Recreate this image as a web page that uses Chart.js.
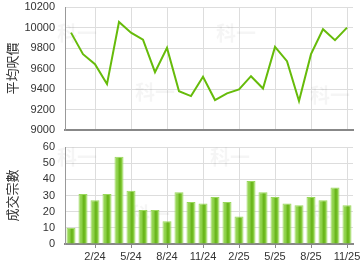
<!DOCTYPE html>
<html>
<head>
<meta charset="utf-8">
<script src="https://cdn.jsdelivr.net/npm/chart.js@4/dist/chart.umd.min.js"></script>
<style>
  body { margin: 0; background: #fff; }
  .box { position: absolute; left: 0; width: 360px; }
</style>
</head>
<body>
<div class="box" style="top:0;height:137px"><canvas id="priceChart"></canvas></div>
<div class="box" style="top:137px;height:133px"><canvas id="volChart"></canvas></div>
<script>
const months = ["12/23", "1/24", "2/24", "3/24", "4/24", "5/24", "6/24", "7/24", "8/24", "9/24", "10/24", "11/24",
                "12/24", "1/25", "2/25", "3/25", "4/25", "5/25", "6/25", "7/25", "8/25", "9/25", "10/25", "11/25"];
const avgPrice = [9950, 9740, 9642, 9448, 10054, 9950, 9882, 9564, 9801, 9378, 9331, 9519,
                  9292, 9357, 9396, 9525, 9405, 9811, 9671, 9282, 9740, 9983, 9876, 9999];
const deals = [10, 31, 27, 31, 54, 33, 21, 21, 14, 32, 26, 25,
               29, 26, 17, 39, 32, 29, 25, 24, 29, 27, 35, 24];

const tickFont = { family: "Liberation Sans, Arial", size: 11 };
const titleFont = { family: "Noto Sans CJK TC", size: 13 };
const showTick = i => i % 3 === 2;

// fixed box sizes so both plot areas line up like the original
function fixBox(w, h) {
    return s => {
        if (w !== null) s.width = w;
        if (h !== null) s.height = h;
        s.paddingTop = 0; s.paddingBottom = 0; s.paddingLeft = 0; s.paddingRight = 0;
    };
}

const watermark = {
    id: "watermark",
    beforeDatasetsDraw(chart, args, opts) {
        const c = chart.ctx;
        c.save();
        c.fillStyle = "rgba(0,0,0,0.04)";
        c.font = "bold 20px 'Noto Sans CJK TC'";
        c.textAlign = "center";
        c.textBaseline = "middle";
        opts.spots.forEach(p => c.fillText("科一", p[0], p[1]));
        c.restore();
    }
};

function yScale(min, max, step, title) {
    return {
        min: min, max: max,
        afterFit: fixBox(65, null),
        border: { color: "#999", width: 1 },
        grid: { color: "#ddd", drawTicks: false },
        ticks: { stepSize: step, autoSkip: false, padding: 10, color: "#333", font: tickFont, callback: v => String(v) },
        title: { display: true, text: title, color: "#333", font: titleFont, padding: { top: 4 } }
    };
}

new Chart(document.getElementById("priceChart"), {
    type: "line",
    data: {
        labels: months,
        datasets: [{
            data: avgPrice,
            borderColor: "#66bb0a",
            borderWidth: 2,
            pointRadius: 0,
            tension: 0
        }]
    },
    plugins: [watermark],
    options: {
        responsive: true,
        maintainAspectRatio: false,
        animation: false,
        layout: { padding: { top: 7, right: 7 } },
        plugins: {
            legend: { display: false },
            tooltip: { enabled: false },
            watermark: { spots: [[77, 33], [155, 92], [236, 33], [330, 95]] }
        },
        scales: {
            x: {
                offset: true,
                afterFit: fixBox(null, 7),
                border: { color: "#888", width: 2 },
                grid: { offset: false, drawTicks: false, color: c => showTick(c.index) ? "#ddd" : "transparent" },
                ticks: { display: false, autoSkip: false }
            },
            y: yScale(9000, 10200, 200, "平均呎價")
        }
    }
});

new Chart(document.getElementById("volChart"), {
    type: "bar",
    data: {
        labels: months,
        datasets: [{
            data: deals,
            backgroundColor: c => {
                const x = c.chart.scales.x;
                const cx = x ? x.getPixelForValue(c.dataIndex) : NaN;
                if (!isFinite(cx)) return "#8ccf45";
                const g = c.chart.ctx.createLinearGradient(cx - 4.5, 0, cx + 4.5, 0);
                g.addColorStop(0, "#a4dc68");
                g.addColorStop(0.35, "#8cd048");
                g.addColorStop(0.6, "#62b012");
                g.addColorStop(0.8, "#86cc3e");
                g.addColorStop(1, "#a4dc68");
                return g;
            },
            borderColor: "#9ad85c",
            borderWidth: 1,
            barPercentage: 0.75,
            categoryPercentage: 1
        }]
    },
    plugins: [watermark],
    options: {
        responsive: true,
        maintainAspectRatio: false,
        animation: false,
        layout: { padding: { top: 10, right: 7 } },
        plugins: {
            legend: { display: false },
            tooltip: { enabled: false },
            watermark: { spots: [[77, 20], [150, 77], [230, 20], [330, 77]] }
        },
        scales: {
            x: {
                afterFit: fixBox(null, 26),
                border: { color: "#888", width: 2 },
                grid: {
                    offset: false, tickLength: 4,
                    color: c => showTick(c.index) ? "#ddd" : "transparent",
                    tickColor: c => showTick(c.index) ? "#888" : "transparent"
                },
                ticks: {
                    autoSkip: false, maxRotation: 0, padding: 2, color: "#333", font: tickFont,
                    callback: (v, i) => showTick(i) ? months[i] : ""
                }
            },
            y: yScale(0, 60, 10, "成交宗數")
        }
    }
});
</script>
</body>
</html>
